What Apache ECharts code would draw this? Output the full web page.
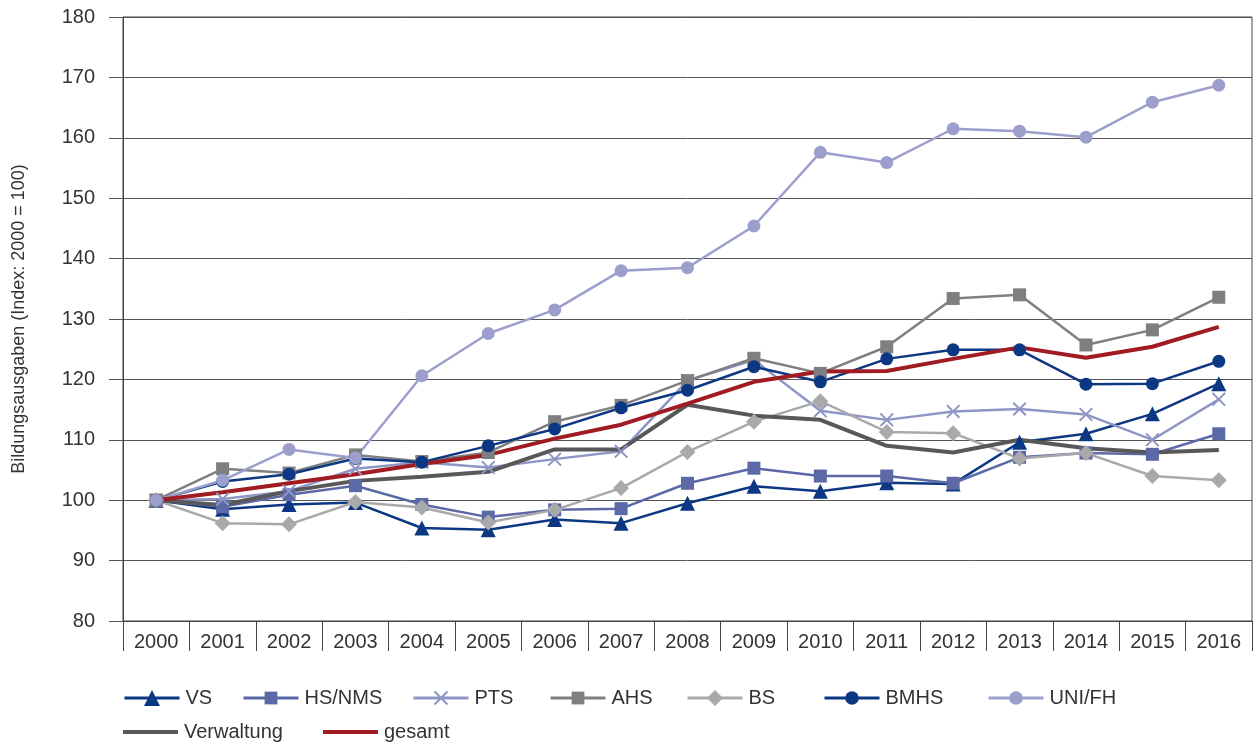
<!DOCTYPE html>
<html>
<head>
<meta charset="utf-8">
<script src="https://cdn.jsdelivr.net/npm/echarts@6/dist/echarts.min.js"></script>
<style>html,body{margin:0;padding:0;background:#fff}#c{width:1260px;height:744px}</style>
</head>
<body>
<div id="c"></div>
<script>
const years = ['2000','2001','2002','2003','2004','2005','2006','2007','2008','2009','2010','2011','2012','2013','2014','2015','2016'];
const yTicks = [80, 180, 10];
const VS       = [100, 98.5, 99.3, 99.6, 95.4, 95.1, 96.8, 96.2, 99.5, 102.3, 101.5, 102.9, 102.7, 109.6, 111.0, 114.3, 119.3];
const HS_NMS   = [100, 98.9, 100.9, 102.4, 99.3, 97.2, 98.4, 98.6, 102.8, 105.3, 104.0, 104.0, 102.8, 107.1, 107.8, 107.6, 111.0];
const PTS      = [100, 100.2, 101.5, 105.2, 106.3, 105.4, 106.8, 108.1, 119.8, 123.2, 114.8, 113.3, 114.7, 115.1, 114.2, 110.0, 116.7];
const AHS      = [100, 105.2, 104.5, 107.5, 106.4, 107.9, 113.0, 115.7, 119.8, 123.5, 121.0, 125.4, 133.4, 134.0, 125.7, 128.2, 133.6];
const BS       = [100, 96.2, 96.0, 99.7, 98.8, 96.3, 98.4, 102.0, 108.0, 113.0, 116.4, 111.3, 111.1, 106.9, 107.8, 104.0, 103.3];
const BMHS     = [100, 103.1, 104.3, 106.9, 106.3, 109.0, 111.8, 115.3, 118.2, 122.1, 119.6, 123.4, 124.9, 124.9, 119.2, 119.3, 123.0];
const UNI_FH   = [100, 103.3, 108.4, 107.0, 120.6, 127.6, 131.5, 138.0, 138.5, 145.4, 157.6, 155.9, 161.5, 161.1, 160.1, 165.9, 168.7];
const Verwaltung = [100, 99.2, 101.5, 103.2, 103.9, 104.7, 108.4, 108.4, 115.8, 114.0, 113.3, 109.0, 107.9, 110.0, 108.6, 107.9, 108.3];
const gesamt   = [100, 101.3, 102.8, 104.3, 106.0, 107.5, 110.2, 112.5, 116.0, 119.6, 121.3, 121.4, 123.4, 125.3, 123.6, 125.4, 128.7];

const FONT = 'Liberation Sans, Arial, sans-serif';
const crossPath = 'path://M0,1 L1,0 L5,4 L9,0 L10,1 L6,5 L10,9 L9,10 L5,6 L1,10 L0,9 L4,5 Z';

function mk(name, data, color, symbol, size, width) {
  return {
    name: name, type: 'line', data: data,
    symbol: symbol, symbolSize: size, showSymbol: symbol !== 'none',
    lineStyle: { color: color, width: width },
    itemStyle: { color: color },
    emphasis: { disabled: true }, animation: false
  };
}

const series = [
  mk('VS', VS, '#0c3883', 'triangle', 15, 2.5),
  mk('HS/NMS', HS_NMS, '#5b69a6', 'rect', 13, 2.5),
  mk('PTS', PTS, '#8e96c6', crossPath, 14, 2.5),
  mk('AHS', AHS, '#7f7f81', 'rect', 13, 2.5),
  mk('BS', BS, '#a9a9ab', 'diamond', 16, 2.5),
  mk('BMHS', BMHS, '#0c3883', 'circle', 13, 2.5),
  mk('UNI/FH', UNI_FH, '#9c9fcb', 'circle', 13, 2.5),
  mk('Verwaltung', Verwaltung, '#58585a', 'none', 0, 4),
  mk('gesamt', gesamt, '#a01b22', 'none', 0, 4)
];

// [name, left, centerY, itemHeight, lineOnly]
const legendPos = [
  ['VS', 123, 698, 20, false], ['HS/NMS', 242, 698, 16, false], ['PTS', 412, 698, 18, false],
  ['AHS', 549, 698, 16, false], ['BS', 686, 698, 20, false], ['BMHS', 823, 698, 17, false],
  ['UNI/FH', 987, 698, 17, false],
  ['Verwaltung', 123, 732, 4, true], ['gesamt', 323, 732, 4, true]
];
const legends = legendPos.map(p => ({
  data: p[4] ? [{ name: p[0], icon: 'rect' }] : [p[0]],
  left: p[1], top: p[2] - 10, padding: 0,
  itemWidth: 55, itemHeight: p[3], itemGap: 0,
  lineStyle: { width: 3 },
  textStyle: { fontFamily: FONT, fontSize: 20, color: '#333', lineHeight: 20, height: 20, padding: [0, 0, 0, 1] },
  selectedMode: false
}));

const chart = echarts.init(document.getElementById('c'));
chart.setOption({
  backgroundColor: '#fff',
  animation: false,
  textStyle: { fontFamily: FONT },
  legend: legends,
  grid: { left: 123, right: 8, top: 17, bottom: 123, show: true, borderColor: '#444', borderWidth: 1 },
  xAxis: {
    type: 'category', data: years, boundaryGap: true,
    axisLine: { lineStyle: { color: '#444', width: 1 } },
    axisTick: { show: true, interval: 0, length: 30, lineStyle: { color: '#444' } },
    axisLabel: { interval: 0, margin: 11, fontSize: 20, color: '#333', fontFamily: FONT },
    splitLine: { show: false }
  },
  yAxis: {
    type: 'value', min: yTicks[0], max: yTicks[1], interval: yTicks[2],
    name: 'Bildungsausgaben (Index: 2000 = 100)', nameLocation: 'middle', nameGap: 95,
    nameTextStyle: { fontSize: 18, color: '#333', fontFamily: FONT },
    axisLine: { show: true, lineStyle: { color: '#444' } },
    axisTick: { show: true, length: 14, lineStyle: { color: '#555' } },
    axisLabel: { fontSize: 20, color: '#333', margin: 28, fontFamily: FONT },
    splitLine: { show: true, lineStyle: { color: '#555', width: 1 } }
  },
  series: series
});
</script>
</body>
</html>
